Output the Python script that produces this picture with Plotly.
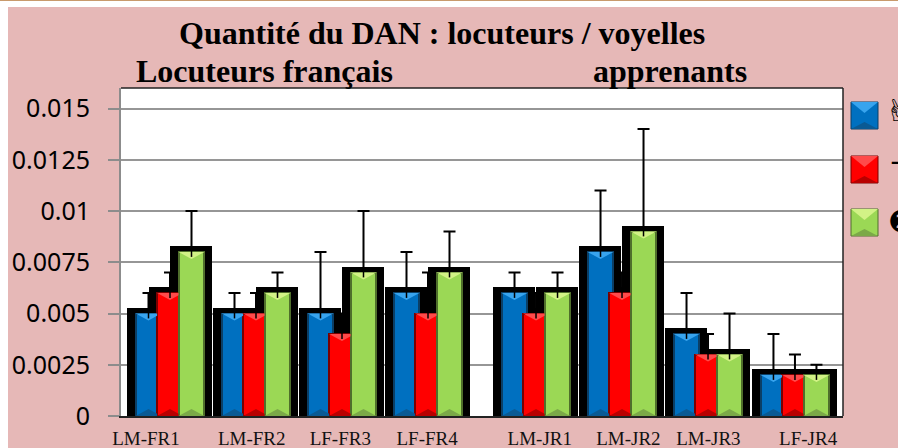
import plotly.graph_objects as go
import numpy as np

W, H = 898, 448
PLOT_L, PLOT_R, PLOT_T, PLOT_B = 121, 843, 88, 416

labels = ["LM-FR1", "LM-FR2", "LF-FR3", "LF-FR4", "LM-JR1", "LM-JR2", "LM-JR3", "LF-JR4"]
series_a = [0.005, 0.005, 0.005, 0.006, 0.006, 0.008, 0.004, 0.002]
series_b = [0.006, 0.005, 0.004, 0.005, 0.005, 0.006, 0.003, 0.002]
series_c = [0.008, 0.006, 0.007, 0.007, 0.006, 0.009, 0.003, 0.002]
err_a = [0.001, 0.001, 0.003, 0.002, 0.001, 0.003, 0.002, 0.002]
err_b = [0.001, 0.001, 0.001, 0.002, 0.001, 0.001, 0.001, 0.001]
err_c = [0.002, 0.001, 0.003, 0.002, 0.001, 0.005, 0.002, 0.0005]
y_ticks = [0, 0.0025, 0.005, 0.0075, 0.01, 0.0125, 0.015]
y_ticktext = ["0", "0.0025", "0.005", "0.0075", "0.01", "0.0125", "0.015"]

group_pos = np.array([0, 1, 2, 3, 4.256, 5.256, 6.256, 7.267])
label_pos = [-0.28, 0.95, 1.98, 2.99, 4.30, 5.33, 6.26, 7.42]
BAR_STEP = 0.25
BAR_W = 0.30
HALO_W = 0.36
BEVEL = 0.00034

STYLES = [
    dict(fill="#0070C0", edge="#0B3F66", top="#38A4EE", bottom="#0A5A94"),
    dict(fill="#FF0000", edge="#7A0000", top="#FF4A4A", bottom="#B80000"),
    dict(fill="#9BD855", edge="#4F6F2C", top="#D2F286", bottom="#7BA948"),
]
values = [series_a, series_b, series_c]
errors = [err_a, err_b, err_c]
offsets = [-BAR_STEP, 0, BAR_STEP]


def px_x(x):
    return (x - PLOT_L) / (PLOT_R - PLOT_L)


def px_y(y):
    return (PLOT_B - y) / (PLOT_B - PLOT_T)


def bevels(i):
    # chevrons at both ends of each bar, cut where the next series covers them
    tx, ty, bx, by = [], [], [], []
    for g, v in enumerate(values[i]):
        c = group_pos[g] + offsets[i]
        x0, x1 = c - BAR_W / 2, c + BAR_W / 2
        cut = x1
        if i < 2 and values[i + 1][g] >= v:
            cut = c + BAR_STEP - BAR_W / 2
        edge = BEVEL * (x1 - cut) / (BAR_W / 2)
        tx += [x0, cut, cut, c, x0, None]
        ty += [v, v, v - edge, v - BEVEL, v, None]
        cut = c + BAR_STEP - BAR_W / 2 if i < 2 else x1
        edge = BEVEL * (x1 - cut) / (BAR_W / 2)
        bx += [x0, cut, cut, c, x0, None]
        by += [0, 0, edge, BEVEL, 0, None]
    return tx, ty, bx, by


fig = go.Figure()

# black halo behind the bars, error bars hang off it so the lower half stays hidden
for i in range(3):
    fig.add_trace(go.Bar(
        x=group_pos + offsets[i], y=values[i], width=HALO_W,
        marker=dict(color="black", line=dict(color="black", width=11)),
        error_y=dict(type="data", array=errors[i], color="black", thickness=2, width=6),
        showlegend=False,
    ))
for i in range(3):
    s = STYLES[i]
    fig.add_trace(go.Bar(
        x=group_pos + offsets[i], y=values[i], width=BAR_W,
        marker=dict(color=s["fill"], line=dict(color=s["edge"], width=2)),
        cliponaxis=False, showlegend=False,
    ))
for i in range(3):
    s = STYLES[i]
    tx, ty, bx, by = bevels(i)
    fig.add_trace(go.Scatter(x=tx, y=ty, mode="lines", fill="toself", fillcolor=s["top"],
                             line=dict(width=0), showlegend=False))
    fig.add_trace(go.Scatter(x=bx, y=by, mode="lines", fill="toself", fillcolor=s["bottom"],
                             line=dict(width=0), showlegend=False))
for i in range(3):
    fig.add_trace(go.Scatter(
        x=group_pos + offsets[i], y=values[i], mode="markers",
        marker=dict(symbol="line-ns", size=7, line=dict(color="black", width=1.5)),
        showlegend=False,
    ))

shapes = [
    dict(type="rect", xref="paper", yref="paper", x0=px_x(0), x1=px_x(W), y0=px_y(7), y1=px_y(0),
         fillcolor="white", line_width=0, layer="below"),
    dict(type="rect", xref="paper", yref="paper", x0=px_x(0), x1=px_x(8), y0=px_y(H), y1=px_y(0),
         fillcolor="white", line_width=0, layer="below"),
    dict(type="rect", xref="paper", yref="paper", x0=px_x(0), x1=px_x(W), y0=px_y(1), y1=px_y(0),
         fillcolor="#C89A6C", line_width=0, layer="below"),
    # plot frame, top and right
    dict(type="line", xref="paper", yref="paper", x0=0, x1=1, y0=1, y1=1, line=dict(color="#222222", width=1.5)),
    dict(type="line", xref="paper", yref="paper", x0=1, x1=1, y0=0, y1=1, line=dict(color="#222222", width=1.5)),
]

# legend swatches
for s, top_y in zip(STYLES, [102, 156, 209]):
    x0, x1, y0, y1 = px_x(851), px_x(878), px_y(top_y + 27), px_y(top_y)
    xm = (x0 + x1) / 2
    shapes.append(dict(type="rect", xref="paper", yref="paper", x0=x0, x1=x1, y0=y0, y1=y1,
                       fillcolor=s["fill"], line=dict(color=s["edge"], width=1)))
    shapes.append(dict(type="path", xref="paper", yref="paper", line_width=0, fillcolor=s["top"],
                       path=f"M{x0},{y1} L{x1},{y1} L{xm},{px_y(top_y + 11)} Z"))
    shapes.append(dict(type="path", xref="paper", yref="paper", line_width=0, fillcolor=s["bottom"],
                       path=f"M{x0},{y0} L{x1},{y0} L{xm},{px_y(top_y + 20)} Z"))

title_texts = ["<b>Quantité du DAN : locuteurs / voyelles</b>", "<b>Locuteurs français</b>", "<b>apprenants</b>"]
title_x = [441.5, 264, 670]
title_y = [33, 71, 71]
annotations = [
    dict(text=t, x=px_x(x), y=px_y(y), xref="paper", yref="paper", showarrow=False,
         xanchor="center", yanchor="middle",
         font=dict(family="Liberation Serif", size=32, color="black"))
    for t, x, y in zip(title_texts, title_x, title_y)
]
for glyph, size, gx, gy in zip(["✌\ufe0e", "−", "❷"], [30, 26, 30], [883, 887, 886], [111, 162, 221]):
    annotations.append(dict(text=glyph, x=px_x(gx), y=px_y(gy), xref="paper", yref="paper",
                            showarrow=False, xanchor="left", yanchor="middle",
                            font=dict(family="DejaVu Sans", size=size, color="black")))

fig.update_layout(
    width=W, height=H,
    paper_bgcolor="#E6B8B7",
    plot_bgcolor="white",
    barmode="overlay",
    bargap=0,
    showlegend=False,
    margin=dict(l=PLOT_L, r=W - PLOT_R, t=PLOT_T, b=H - PLOT_B, pad=0),
    shapes=shapes,
    annotations=annotations,
    xaxis=dict(
        automargin=False,
        range=[(PLOT_L - 170) / 86, (PLOT_R - 170) / 86],
        tickvals=label_pos, ticktext=labels, ticks="", showgrid=False, zeroline=False,
        ticklabelstandoff=4,
        tickfont=dict(family="Liberation Serif", size=19, color="#111111"),
        showline=True, linecolor="#222222", linewidth=1.5,
    ),
    yaxis=dict(
        automargin=False,
        range=[0, 0.016], tickvals=y_ticks, ticktext=y_ticktext,
        ticks="outside", ticklen=11, tickcolor="#8C8C8C", tickwidth=1.5,
        ticklabelstandoff=13,
        gridcolor="#969696", gridwidth=1.5, zeroline=False,
        tickfont=dict(family="Noto Sans", size=25, color="black"),
        showline=True, linecolor="#8C8C8C", linewidth=2,
    ),
)

fig.write_html("out.html", config=dict(displayModeBar=False),
               post_script="document.body.style.margin='0';document.body.style.overflow='hidden';")
